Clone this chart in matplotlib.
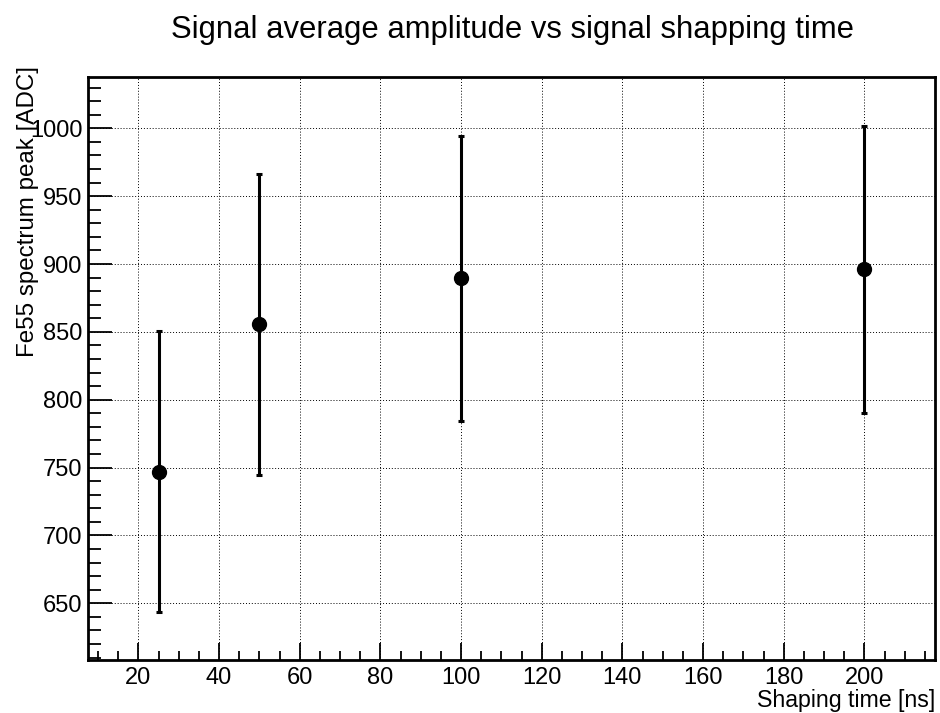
import matplotlib
matplotlib.use("Agg")
import matplotlib.pyplot as plt
from matplotlib.ticker import MultipleLocator

plt.rcParams['font.family'] = ['Liberation Sans', 'DejaVu Sans']

shaping_time = [25, 50, 100, 200]
peak = [747, 855.5, 889.5, 896]
peak_err = [103.5, 111, 105, 106]

title = "Signal average amplitude vs signal shapping time"
xlabel = "Shaping time [ns]"
ylabel = "Fe55 spectrum peak [ADC]"

fig = plt.figure(figsize=(9.4, 7.13), dpi=100)
ax = fig.add_axes([88/940, 1-660/713, (935-88)/940, (660-77)/713])

ax.errorbar(shaping_time, peak, yerr=peak_err, fmt='o', color='black',
            markersize=10, elinewidth=2.2, capsize=2.5, capthick=2.2, zorder=3)

ax.set_xlim(7.5, 217.5)
ax.set_ylim(608.2, 1037.8)

ax.xaxis.set_major_locator(MultipleLocator(20))
ax.xaxis.set_minor_locator(MultipleLocator(5))
ax.yaxis.set_major_locator(MultipleLocator(50))
ax.yaxis.set_minor_locator(MultipleLocator(10))

ax.tick_params(axis='both', which='both', direction='in', top=False, right=False, colors='black')
ax.tick_params(axis='x', which='major', length=12.5, width=1.3, labelsize=17, pad=5)
ax.tick_params(axis='x', which='minor', length=6.5, width=1.3)
ax.tick_params(axis='y', which='major', length=17.5, width=1.3, labelsize=17, pad=4)
ax.tick_params(axis='y', which='minor', length=9.5, width=1.3)

for s in ax.spines.values():
    s.set_linewidth(2.0)

ax.grid(True, which='major', color='black', linestyle=(0, (1, 2)), linewidth=0.7)

fig.text(512.5/940, 1-38/713, title, ha='center', va='baseline', fontsize=22.3)
fig.text(935/940, 1-707/713, xlabel, ha='right', va='baseline', fontsize=16.7)
fig.text(28/940, 1-66/713, ylabel, ha='center', va='top', rotation=90, fontsize=17.4)

fig.savefig("out.png", dpi=100)
